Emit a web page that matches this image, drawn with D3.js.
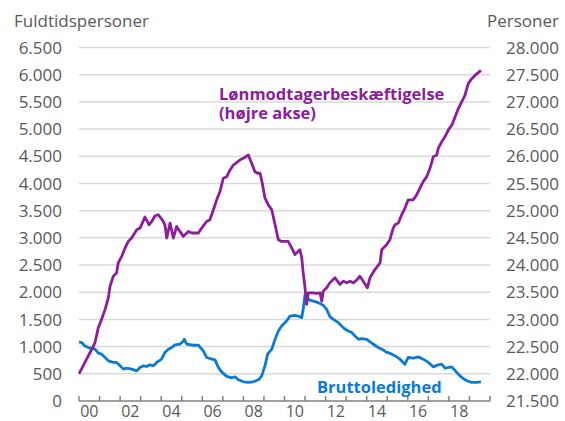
<!DOCTYPE html>
<html><head><meta charset="utf-8">
<script src="https://cdn.jsdelivr.net/npm/d3@7"></script>
<style>
body{margin:0;background:#fff;}
svg text{font-family:"Open Sans",Lato,sans-serif;}
</style></head><body>
<svg id="chart" width="565" height="421"></svg>
<script>
// Lønmodtagerbeskæftigelse (right axis, persons)
const empYears = [2000.0,2000.29,2000.54,2000.78,2000.94,2001.10,2001.27,2001.43,2001.51,2001.67,2001.83,2001.91,2002.08,2002.24,2002.40,2002.56,2002.81,2002.97,2003.21,2003.41,2003.54,2003.70,2003.86,2004.05,2004.18,2004.27,2004.43,2004.59,2004.75,2004.91,2005.08,2005.32,2005.48,2005.81,2005.97,2006.21,2006.37,2006.54,2006.70,2006.86,2007.02,2007.19,2007.35,2007.51,2007.67,2007.83,2007.99,2008.24,2008.40,2008.56,2008.70,2008.81,2008.92,2009.05,2009.21,2009.38,2009.54,2009.70,2009.86,2010.10,2010.18,2010.35,2010.51,2010.67,2010.75,2010.84,2010.91,2011.00,2011.08,2011.16,2011.40,2011.57,2011.73,2011.81,2011.89,2012.05,2012.21,2012.46,2012.70,2012.86,2013.03,2013.19,2013.35,2013.54,2013.67,2013.83,2014.03,2014.16,2014.40,2014.65,2014.73,2014.97,2015.13,2015.29,2015.38,2015.54,2015.70,2015.86,2016.02,2016.27,2016.43,2016.59,2016.75,2016.92,2017.08,2017.24,2017.41,2017.48,2017.65,2017.81,2017.97,2018.14,2018.30,2018.46,2018.62,2018.78,2018.94,2019.11,2019.27,2019.43,2019.56];
const empValues = [22000,22209,22392,22575,22849,23001,23185,23399,23611,23794,23856,24040,24160,24314,24435,24497,24649,24680,24882,24741,24801,24906,24924,24832,24741,24497,24772,24497,24710,24618,24527,24618,24589,24589,24680,24801,24832,25016,25199,25351,25596,25625,25748,25839,25882,25931,25962,26023,25871,25717,25688,25688,25504,25230,25107,25016,24741,24466,24435,24435,24435,24314,24192,24252,24283,24131,23856,23582,23276,23490,23490,23477,23490,23336,23520,23582,23673,23765,23642,23703,23673,23703,23673,23734,23794,23703,23582,23765,23917,24040,24283,24375,24466,24680,24741,24772,24924,25047,25199,25199,25290,25413,25534,25625,25779,25991,26023,26145,26266,26358,26480,26572,26724,26878,26998,27121,27335,27427,27487,27537,27579];

// Bruttoledighed (left axis, full-time persons)
const unempYears = [2000.0,2000.13,2000.29,2000.54,2000.78,2000.94,2001.10,2001.27,2001.43,2001.67,2001.83,2002.00,2002.16,2002.32,2002.56,2002.81,2002.97,2003.13,2003.29,2003.45,2003.62,2003.78,2004.02,2004.18,2004.35,2004.51,2004.67,2004.91,2005.08,2005.12,2005.24,2005.56,2005.81,2006.05,2006.21,2006.46,2006.62,2006.78,2006.94,2007.19,2007.43,2007.59,2007.75,2008.00,2008.24,2008.48,2008.73,2008.89,2009.05,2009.18,2009.38,2009.54,2009.70,2009.86,2010.10,2010.27,2010.51,2010.67,2010.84,2010.91,2011.00,2011.08,2011.24,2011.40,2011.57,2011.73,2011.89,2012.05,2012.21,2012.38,2012.62,2012.86,2013.03,2013.27,2013.43,2013.60,2013.76,2014.00,2014.16,2014.40,2014.56,2014.81,2014.97,2015.13,2015.38,2015.62,2015.86,2016.02,2016.27,2016.51,2016.75,2017.00,2017.24,2017.48,2017.65,2017.81,2018.14,2018.38,2018.62,2018.87,2019.11,2019.35,2019.56];
const unempValues = [1086,1075,1013,970,952,879,861,800,738,709,709,646,586,604,586,555,617,646,635,665,646,709,769,892,952,983,1031,1044,1104,1135,1044,1025,1025,921,800,769,756,617,536,452,427,445,390,353,342,353,390,463,646,861,952,1135,1287,1379,1470,1562,1575,1562,1533,1685,1959,1899,1855,1836,1818,1794,1758,1685,1551,1501,1441,1349,1300,1258,1196,1135,1148,1135,1086,1025,983,939,892,879,829,769,677,800,787,811,769,709,628,665,677,604,628,525,434,372,342,342,353];

const leftTicks = [0,500,1000,1500,2000,2500,3000,3500,4000,4500,5000,5500,6000,6500];
const rightTicks = [21500,22000,22500,23000,23500,24000,24500,25000,25500,26000,26500,27000,27500,28000];
const yearTicks = d3.range(2000, 2021, 1);
const yearLabels = d3.range(2000, 2019, 2);

const leftTitle = "Fuldtidspersoner";
const rightTitle = "Personer";
const empLabel = ["Lønmodtagerbeskæftigelse", "(højre akse)"];
const unempLabel = "Bruttoledighed";

const purple = "#8c1d9b";
const blue = "#0a7bd5";
const gridCol = "#d9d9d9";
const textCol = "#595959";

const locale = d3.formatLocale({decimal:",", thousands:".", grouping:[3], currency:["",""]});
const fmt = locale.format(",d");

const svg = d3.select("#chart");
const x = d3.scaleLinear().domain([2000, 2020]).range([79, 490]);
const yL = d3.scaleLinear().domain([0, 6500]).range([401, 47.5]);
const yR = d3.scaleLinear().domain([21500, 28000]).range([401, 47.5]);

// gridlines
svg.append("g").selectAll("line").data(leftTicks.slice(1)).join("line")
  .attr("x1", x(2000)).attr("x2", x(2020))
  .attr("y1", d => yL(d)).attr("y2", d => yL(d))
  .attr("stroke", gridCol).attr("stroke-width", 1.5);

// left axis labels
svg.append("g").selectAll("text").data(leftTicks).join("text")
  .attr("x", 62).attr("y", d => yL(d)).attr("dy", "0.36em")
  .attr("text-anchor", "end").attr("font-size", 17).attr("fill", textCol)
  .text(d => fmt(d));

// right axis labels
svg.append("g").selectAll("text").data(rightTicks).join("text")
  .attr("x", 559).attr("y", d => yR(d)).attr("dy", "0.36em")
  .attr("text-anchor", "end").attr("font-size", 17).attr("fill", textCol)
  .text(d => fmt(d));

// axis titles
svg.append("text").attr("x", 14).attr("y", 27).attr("font-size", 17).attr("fill", textCol).text(leftTitle);
svg.append("text").attr("x", 559).attr("y", 27).attr("text-anchor", "end").attr("font-size", 17).attr("fill", textCol).text(rightTitle);

// x axis
const xAxis = svg.append("g");
xAxis.append("line").attr("x1", x(2000)).attr("x2", x(2020)).attr("y1", yL(0)).attr("y2", yL(0))
  .attr("stroke", "#808080").attr("stroke-width", 1.5);
xAxis.selectAll("line.tick").data(yearTicks).join("line").attr("class", "tick")
  .attr("x1", d => x(d)).attr("x2", d => x(d)).attr("y1", yL(0) - 5).attr("y2", yL(0))
  .attr("stroke", "#808080").attr("stroke-width", 1.5);
xAxis.selectAll("text").data(yearLabels).join("text")
  .attr("x", d => x(d + 0.5)).attr("y", 417).attr("text-anchor", "middle")
  .attr("font-size", 16).attr("fill", textCol)
  .text(d => String(d % 100).padStart(2, "0"));

// lines
const empData = empYears.map((d, i) => [d, empValues[i]]);
const unempData = unempYears.map((d, i) => [d, unempValues[i]]);

svg.append("path").datum(unempData)
  .attr("fill", "none").attr("stroke", blue).attr("stroke-width", 2.8).attr("stroke-linejoin", "round")
  .attr("d", d3.line().x(d => x(d[0])).y(d => yL(d[1])));

svg.append("path").datum(empData)
  .attr("fill", "none").attr("stroke", purple).attr("stroke-width", 2.8).attr("stroke-linejoin", "round")
  .attr("d", d3.line().x(d => x(d[0])).y(d => yR(d[1])));

// series labels
const empText = svg.append("text").attr("x", 219).attr("y", 99.5).attr("font-size", 16.5)
  .attr("font-weight", "bold").attr("fill", purple);
empText.selectAll("tspan").data(empLabel).join("tspan")
  .attr("x", 219).attr("dy", (d, i) => i === 0 ? 0 : 19.5).text(d => d);
svg.append("text").attr("x", 317).attr("y", 392.5).attr("font-size", 16.5).attr("font-weight", "bold")
  .attr("fill", blue).text(unempLabel);
</script></body></html>
